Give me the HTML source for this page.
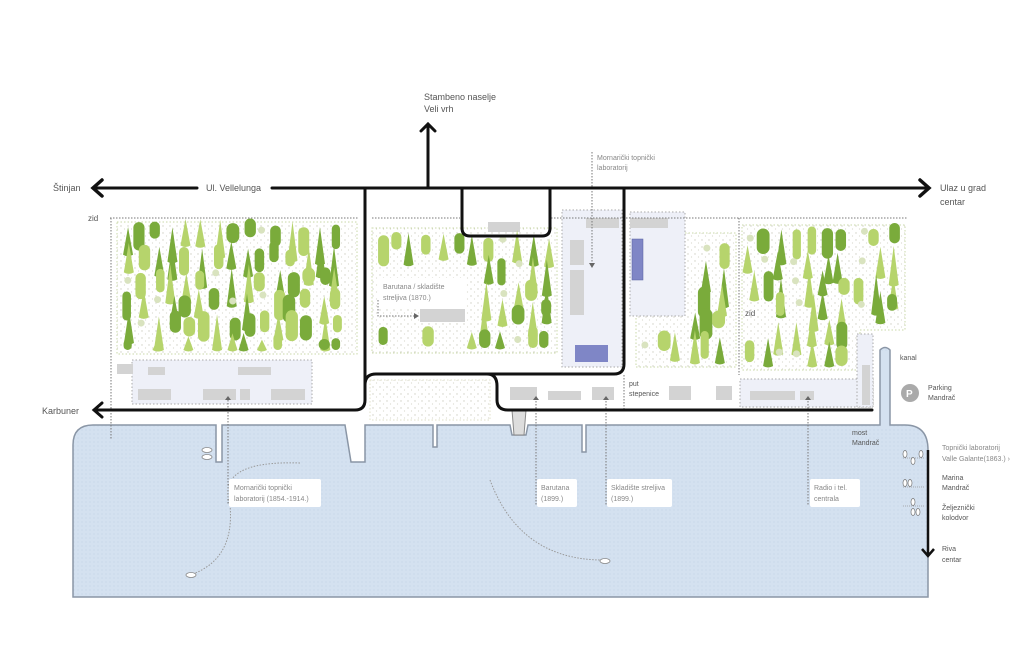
<!DOCTYPE html>
<html><head><meta charset="utf-8"><style>
html,body{margin:0;padding:0;background:#fff;}
svg{display:block;font-family:"Liberation Sans",sans-serif;}
.l{font-size:8px;fill:#555;}
.s{font-size:7px;fill:#888;}
</style></head><body>
<svg id="svg" width="1024" height="647" viewBox="0 0 1024 647" xmlns="http://www.w3.org/2000/svg">
<defs>
<pattern id="sp" width="7" height="7" patternUnits="userSpaceOnUse"><circle cx="2" cy="2" r="0.7" fill="#cfcfc4"/><circle cx="5.5" cy="5" r="0.6" fill="#d8d8cc"/></pattern>
<pattern id="wp" width="4" height="4" patternUnits="userSpaceOnUse"><rect width="4" height="4" fill="#d4e1f0"/><circle cx="2" cy="2" r="0.6" fill="#c3d3e6"/></pattern>
</defs>
<path d="M73,597 L73,445 Q73,425 93,425 L216,425 L216,462 L222,462 L222,425 L345,425 L351,462 L365,462 L365,425 L433,425 L433,447 L437,447 L437,425 L510,425 L512,435 L526,435 L528,425 L582,425 L582,452 L586,452 L586,425 L880,425 L880,350 Q885,345 890,350 L890,425 L905,425 Q928,425 928,450 L928,597 Z" fill="url(#wp)" stroke="#8a96a6" stroke-width="1.5"/>
<rect x="881" y="352" width="8" height="75" fill="#d4e1f0"/>
<path d="M512,410 L526,410 L524,435 L514,435 Z" fill="#ddd" stroke="#888" stroke-width="1"/>
<g fill="url(#sp)" stroke="#c9d8a8" stroke-width="1" stroke-dasharray="1.5,2">
<rect x="117" y="222" width="240" height="132"/>
<rect x="372" y="228" width="185" height="125"/>
<rect x="636" y="233" width="100" height="134"/>
<path d="M742,225 H905 V330 H860 V370 H742 Z"/>
<rect x="370" y="380" width="120" height="40" stroke="#e0e0c8"/>
</g>
<g fill="#eef0f8" stroke="#aaa" stroke-width="1" stroke-dasharray="1.5,2">
<rect x="132" y="360" width="180" height="44"/>
<rect x="562" y="210" width="60" height="157"/>
<rect x="630" y="212" width="55" height="104"/>
<rect x="740" y="379" width="133" height="28"/>
<rect x="857" y="334" width="16" height="73"/>
</g>
<g fill="#d3d3d3">
<rect x="117" y="364" width="16" height="10"/><rect x="148" y="367" width="17" height="8"/><rect x="238" y="367" width="33" height="8"/>
<rect x="138" y="389" width="33" height="11"/><rect x="203" y="389" width="33" height="11"/><rect x="240" y="389" width="10" height="11"/><rect x="271" y="389" width="34" height="11"/>
<rect x="420" y="309" width="45" height="13"/><rect x="488" y="222" width="32" height="10"/>
<rect x="586" y="218" width="33" height="10"/><rect x="630" y="218" width="38" height="10"/>
<rect x="570" y="240" width="14" height="25"/><rect x="570" y="270" width="14" height="45"/>
<rect x="510" y="387" width="27" height="13"/><rect x="548" y="391" width="33" height="9"/><rect x="592" y="387" width="22" height="13"/>
<rect x="669" y="386" width="22" height="14"/><rect x="716" y="386" width="16" height="14"/><rect x="750" y="391" width="45" height="9"/><rect x="800" y="391" width="14" height="9"/><rect x="862" y="365" width="8" height="40"/>
</g>
<rect x="575" y="345" width="33" height="17" fill="#7f86c6"/>
<rect x="632" y="239" width="11" height="41" fill="#7f86c6" stroke="#5960a0" stroke-width="0.5"/>
<g id="trees"></g>
<g stroke="#777" stroke-width="1" stroke-dasharray="1.5,1.5" fill="none">
<path d="M110,218 H358 M372,218 H460 M551,218 H908"/>
<path d="M111,218 V440"/>
<path d="M739,218 V375"/>
<path d="M228,400 V505"/><path d="M536,398 V505"/><path d="M606,398 V505"/><path d="M808,398 V505"/>
<path d="M592,152 V265"/><path d="M624,375 V410"/>
<path d="M378,300 V316 H414"/>
<path d="M300,463 Q215,460 230,505 Q235,560 190,575" stroke="#999"/>
<path d="M490,480 Q520,560 603,560" stroke="#999"/>
</g>
<g fill="#666"><path d="M589,263 L595,263 L592,268Z"/><path d="M414,313 L419,316 L414,319Z"/>
<path d="M225,400 L231,400 L228,396Z"/><path d="M533,400 L539,400 L536,396Z"/><path d="M603,400 L609,400 L606,396Z"/><path d="M805,400 L811,400 L808,396Z"/></g>
<g stroke="#111" stroke-width="3" fill="none" stroke-linecap="round">
<path d="M94,188 H197 M272,188 H928"/>
<path d="M102,180 L93,188 L102,196 M920,180 L929,188 L920,196" stroke-width="3.5"/>
<path d="M428,188 V124 M421,131 L428,124 L435,131"/>
<path d="M462,188 V228 Q462,236 470,236 H542 Q550,236 550,228 V188"/>
<path d="M365,188 V400 Q365,410 355,410 H94 M102,403 L94,410 L102,417"/>
<path d="M365,385 Q365,374 376,374 H614 Q624,374 624,364 V188"/>
<path d="M487,374 Q497,374 497,386 V400 Q497,410 508,410 H872"/>
</g>
<g fill="#fff" stroke="#888" stroke-width="0.8">
<ellipse cx="207" cy="450" rx="5" ry="2.5"/><ellipse cx="207" cy="457" rx="5" ry="2.5"/>
<ellipse cx="191" cy="575" rx="5" ry="2.5"/><ellipse cx="605" cy="561" rx="5" ry="2.5"/>
</g>
<g stroke="#999" stroke-width="0.7" fill="none" stroke-dasharray="1,1"><path d="M903,458 H925 M903,487 H925 M903,506 H925"/></g>
<g fill="#fff" stroke="#777" stroke-width="0.7"><ellipse cx="905" cy="454" rx="2" ry="3.5"/><ellipse cx="913" cy="461" rx="2" ry="3.5"/><ellipse cx="921" cy="454" rx="2" ry="3.5"/><ellipse cx="905" cy="483" rx="2" ry="3.5"/><ellipse cx="910" cy="483" rx="2" ry="3.5"/><ellipse cx="913" cy="502" rx="2" ry="3.5"/><ellipse cx="913" cy="512" rx="2" ry="3.5"/><ellipse cx="918" cy="512" rx="2" ry="3.5"/></g>
<path d="M928,450 V555 M922,549 L928,556 L934,549" stroke="#111" stroke-width="2.5" fill="none"/>
<g fill="#fff"><rect x="229" y="479" width="92" height="28" rx="2"/><rect x="537" y="479" width="40" height="28" rx="2"/><rect x="607" y="479" width="65" height="28" rx="2"/><rect x="810" y="479" width="50" height="28" rx="2"/><rect x="379" y="278" width="86" height="30" rx="2"/><rect x="595" y="152" width="70" height="22"/></g>
<g class="s">
<text x="234" y="490">Mornarički topnički</text><text x="234" y="501">laboratorij (1854.-1914.)</text>
<text x="541" y="490">Barutana</text><text x="541" y="501">(1899.)</text>
<text x="611" y="490">Skladište streljiva</text><text x="611" y="501">(1899.)</text>
<text x="814" y="490">Radio i tel.</text><text x="814" y="501">centrala</text>
<text x="383" y="289">Barutana / skladište</text><text x="383" y="300">streljiva (1870.)</text>
<text x="597" y="160">Mornarički topnički</text><text x="597" y="170">laboratorij</text>
<text x="942" y="450">Topnički laboratorij</text><text x="942" y="461">Valle Galante(1863.) ›</text>
</g>
<g class="l">
<text x="424" y="100" font-size="9">Stambeno naselje</text><text x="424" y="112" font-size="9">Veli vrh</text>
<text x="53" y="191" font-size="9">Štinjan</text>
<text x="206" y="191" font-size="9">Ul. Vellelunga</text>
<text x="940" y="191" font-size="9">Ulaz u grad</text><text x="940" y="205" font-size="9">centar</text>
<text x="42" y="414" font-size="9">Karbuner</text>
<text x="88" y="221">zid</text><text x="745" y="316">zid</text>
<text x="629" y="386" font-size="7">put</text><text x="629" y="396" font-size="7">stepenice</text>
<text x="900" y="360" font-size="7">kanal</text>
<text x="928" y="390" font-size="7">Parking</text><text x="928" y="400" font-size="7">Mandrač</text>
<text x="852" y="435" font-size="7">most</text><text x="852" y="445" font-size="7">Mandrač</text>
<text x="942" y="480" font-size="7">Marina</text><text x="942" y="490" font-size="7">Mandrač</text>
<text x="942" y="510" font-size="7">Željeznički</text><text x="942" y="520" font-size="7">kolodvor</text>
<text x="942" y="551" font-size="7">Riva</text><text x="942" y="562" font-size="7">centar</text>
</g>
<circle cx="910" cy="393" r="9" fill="#aaa"/><text x="906" y="397" font-size="10" fill="#fff" font-weight="bold">P</text>
</svg>
<script>
(function(){
var s=11;function r(){s=(s*9301+49297)%233280;return s/233280;}
var g=document.getElementById('trees'),h='';
var zones=[[120,218,355,352],[374,230,555,350],[640,236,736,365],[744,222,855,368],[855,222,903,328]];
var skip=[[372,270,470,326],[560,200,690,318],[740,305,770,322]];
zones.forEach(function(z){
 for(var x=z[0]+7;x<z[2]-5;x+=15){
  for(var y=z[1];y<z[3]-16;y+=23){
   var cx=x+(r()-0.5)*7, cy=y+r()*10;
   var t=r(),c=r()<0.5?'#7aab3b':'#b6d46c';
   var hh=t<0.45?24+r()*16:16+r()*16;
   if(cy+hh>z[3]-2) hh=z[3]-2-cy;
   if(hh<10) continue;
   var bad=false;skip.forEach(function(k){if(cx+5>k[0]&&cx-5<k[2]&&cy+hh>k[1]&&cy<k[3])bad=true;});
   if(bad)continue;
   if(t<0.45){h+='<path d="M'+(cx-5)+','+(cy+hh)+' Q'+cx+','+(cy+hh+3)+' '+(cx+5)+','+(cy+hh)+' L'+cx+','+cy+' Z" fill="'+c+'"/>';}
   else if(t<0.88){var w=8+r()*5;h+='<rect x="'+(cx-w/2)+'" y="'+cy+'" width="'+w+'" height="'+hh+'" rx="'+(w/2)+'" fill="'+c+'"/>';}
   else {h+='<circle cx="'+cx+'" cy="'+(cy+8)+'" r="3.5" fill="#d9e3bf"/>';}
  }
 }
});
g.innerHTML=h;
})();
</script>
</body></html>
